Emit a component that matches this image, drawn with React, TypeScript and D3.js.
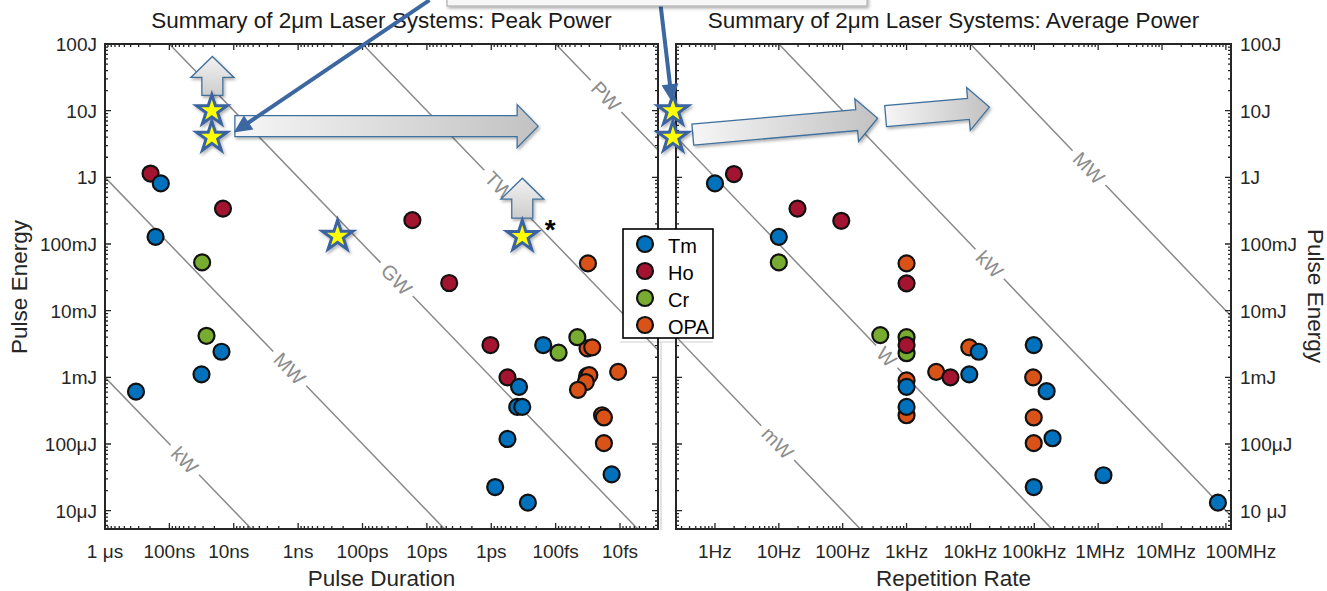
import React, { useEffect, useRef } from "react";
import * as d3 from "d3";

type Pt = [number, number];

// Peak power panel: [pulse duration (s), pulse energy (J)]
const tmPeak: Pt[] = [
  [1.36e-7, 0.81], [1.64e-7, 0.128], [1.55e-8, 2.42e-3], [3.17e-8, 1.11e-3], [3.3e-7, 6.1e-4],
  [1.56e-13, 3.05e-3], [3.7e-13, 7.2e-4], [3.95e-13, 3.6e-4], [3.3e-13, 3.6e-4],
  [5.6e-13, 1.19e-4], [8.7e-13, 2.26e-5], [2.7e-13, 1.32e-5], [1.35e-14, 3.5e-5],
];
const hoPeak: Pt[] = [
  [1.96e-7, 1.14], [1.47e-8, 0.34], [1.68e-11, 0.228], [4.5e-12, 0.026],
  [1.03e-12, 3.05e-3], [5.6e-13, 1.0e-3],
];
const crPeak: Pt[] = [[3.1e-8, 0.053], [2.65e-8, 4.2e-3], [9.0e-14, 2.34e-3], [4.6e-14, 4.0e-3]];
const opaPeak: Pt[] = [
  [3.15e-14, 0.0512], [3.2e-14, 2.72e-3], [2.7e-14, 2.82e-3], [3.25e-14, 1.05e-3], [3.0e-14, 1.08e-3],
  [3.4e-14, 8.5e-4], [4.5e-14, 6.5e-4], [1.07e-14, 1.21e-3], [1.9e-14, 2.7e-4], [1.78e-14, 2.5e-4],
  [1.78e-14, 1.03e-4],
];

// Average power panel: [repetition rate (Hz), pulse energy (J)]
const tmAvg: Pt[] = [
  [1, 0.81], [10, 0.128], [1e3, 7.2e-4], [1e3, 3.6e-4], [9.6e3, 1.11e-3], [1.35e4, 2.42e-3],
  [9.8e4, 3.05e-3], [1.56e5, 6.2e-4], [1.93e5, 1.22e-4], [9.8e4, 2.26e-5], [1.21e6, 3.4e-5], [7.5e7, 1.32e-5],
];
const hoAvg: Pt[] = [[1.98, 1.12], [19.6, 0.34], [95, 0.223], [1e3, 0.0257], [1e3, 3.05e-3], [4.87e3, 1.0e-3]];
const crAvg: Pt[] = [[10, 0.053], [388, 4.3e-3], [1e3, 4.0e-3], [1e3, 2.3e-3]];
const opaAvg: Pt[] = [
  [1e3, 0.0512], [1e3, 9.0e-4], [1e3, 2.7e-4], [2.91e3, 1.21e-3], [9.6e3, 2.82e-3],
  [9.6e4, 1.0e-3], [9.8e4, 2.5e-4], [9.8e4, 1.03e-4],
];

const seriesNames = ["Tm", "Ho", "Cr", "OPA"];
const seriesColors = ["#0072BD", "#A2142F", "#77AC30", "#D95319"];

// highlighted systems (stars)
const starsPeak: Pt[] = [[2.19e-8, 10], [2.19e-8, 4], [2.44e-10, 0.131], [3.3e-13, 0.13]];
const starsAvg: Pt[] = [[0.22, 10], [0.22, 4]];

// block arrows: [tail, tip]
const arrowsPeak: Pt[][] = [
  [[2.15e-8, 17], [2.15e-8, 65]],
  [[9.6e-9, 5.86], [1.87e-13, 5.86]],
  [[3.3e-13, 0.244], [3.3e-13, 0.97]],
];
const arrowsAvg: Pt[][] = [
  [[0.45, 4.37], [352, 7.7]],
  [[470, 8.3], [1.98e4, 11.3]],
];
// callout lines coming from the box above
const connectorsPeak: Pt[][] = [[[9.1e-12, 454], [1.0e-8, 4.7]]];
const connectorsAvg: Pt[][] = [[[0.138, 454], [0.213, 13.4]]];

// constant power lines
const peakLinePowers = [1e3, 1e6, 1e9, 1e12, 1e15];
const peakLineLabels = ["kW", "MW", "GW", "TW", "PW"];
const peakLabelAt = [5.75e-8, 1.35e-9, 2.95e-11, 7.5e-13, 1.65e-14];
const avgLinePowers = [1e-3, 1, 1e3, 1e6];
const avgLineLabels = ["mW", "W", "kW", "MW"];
const avgLabelAt = [9.6, 490, 2e4, 7.2e5];

// ticks
const energyTicks = [100, 10, 1, 0.1, 0.01, 1e-3, 1e-4, 1e-5];
const energyLabelsLeft = ["100J", "10J", "1J", "100mJ", "10mJ", "1mJ", "100μJ", "10μJ"];
const energyLabelsRight = ["100J", "10J", "1J", "100mJ", "10mJ", "1mJ", "100μJ", "10 μJ"];
const durationTicks = [1e-6, 1e-7, 1e-8, 1e-9, 1e-10, 1e-11, 1e-12, 1e-13, 1e-14];
const durationLabels = ["1 μs", "100ns", "10ns", "1ns", "100ps", "10ps", "1ps", "100fs", "10fs"];
const rateTicks = [1, 10, 100, 1e3, 1e4, 1e5, 1e6, 1e7, 1e8];
const rateLabels = ["1Hz", "10Hz", "100Hz", "1kHz", "10kHz", "100kHz", "1MHz", "10MHz", "100MHz"];

const FONT = "'Liberation Sans', Arial, Helvetica, sans-serif";
const TOP = 44, BOTTOM = 529;
const INK = "#262626";
const SH = 10.5, HH = 21.5, HEAD = 21; // block arrow shaft / head half widths, head length

function logTicks(domain: number[]) {
  const l = domain.map(Math.log10);
  const lo = Math.min(...l), hi = Math.max(...l);
  const out: { v: number; major: boolean }[] = [];
  for (let e = Math.floor(lo); e <= Math.ceil(hi); e++)
    for (let m = 1; m <= 9; m++) {
      const lv = Math.log10(m) + e;
      if (lv >= lo - 1e-9 && lv <= hi + 1e-9) out.push({ v: m * 10 ** e, major: m === 1 });
    }
  return out;
}

function arrowPath(a: number[], b: number[]) {
  const dx = b[0] - a[0], dy = b[1] - a[1], L = Math.hypot(dx, dy);
  const ux = dx / L, uy = dy / L, nx = -uy, ny = ux;
  const bx = b[0] - ux * HEAD, by = b[1] - uy * HEAD;
  const p = [
    [a[0] + nx * SH, a[1] + ny * SH], [bx + nx * SH, by + ny * SH], [bx + nx * HH, by + ny * HH],
    [b[0], b[1]],
    [bx - nx * HH, by - ny * HH], [bx - nx * SH, by - ny * SH], [a[0] - nx * SH, a[1] - ny * SH],
  ];
  return "M" + p.map((q) => q.join(",")).join("L") + "Z";
}

const App = () => {
  const svgRef = useRef<SVGSVGElement>(null);

  useEffect(() => {
    const svg = d3.select(svgRef.current);
    svg.selectAll("*").remove();
    svg.attr("font-family", FONT);

    const y = d3.scaleLog().domain([10 ** -5.275, 100]).range([BOTTOM, TOP]);
    const xPeak = d3.scaleLog().domain([1e-6, 10 ** -14.59]).range([105, 658]);
    const xAvg = d3.scaleLog().domain([10 ** -0.61, 10 ** 8.08]).range([676, 1231]);

    const defs = svg.append("defs");
    const gH = defs.append("linearGradient").attr("id", "gradH").attr("x1", 0).attr("y1", 0).attr("x2", 1).attr("y2", 0);
    gH.append("stop").attr("offset", 0).attr("stop-color", "#f6f6f6");
    gH.append("stop").attr("offset", 1).attr("stop-color", "#c2c2c2");
    const gV = defs.append("linearGradient").attr("id", "gradV").attr("x1", 0).attr("y1", 0).attr("x2", 0).attr("y2", 1);
    gV.append("stop").attr("offset", 0).attr("stop-color", "#f2f2f2");
    gV.append("stop").attr("offset", 1).attr("stop-color", "#cdcdcd");
    defs.append("filter").attr("id", "shadow").attr("x", "-30%").attr("y", "-30%").attr("width", "160%").attr("height", "160%")
      .append("feDropShadow").attr("dx", 1.5).attr("dy", 2).attr("stdDeviation", 1.5)
      .attr("flood-color", "#000").attr("flood-opacity", 0.3);

    const panel = (o: {
      id: string; x: d3.ScaleLogarithmic<number, number>; ticks: number[]; tickLabels: string[]; nudge: number[];
      powers: number[]; labels: string[]; labelAt: number[]; energyAt: (p: number, v: number) => number;
      data: Pt[][]; stars: Pt[]; arrows: Pt[][]; title: string; xLabel: string; yLabels: string[]; right: boolean;
    }) => {
      const { x } = o;
      const [x0, x1] = x.range();
      defs.append("clipPath").attr("id", o.id).append("rect")
        .attr("x", x0).attr("y", TOP).attr("width", x1 - x0).attr("height", BOTTOM - TOP);

      // constant power lines with inline labels
      const lg = svg.append("g").attr("clip-path", `url(#${o.id})`);
      const [d0, d1] = x.domain();
      o.powers.forEach((p, i) => {
        const A = [x(d0), y(o.energyAt(p, d0))];
        const B = [x(d1), y(o.energyAt(p, d1))];
        const C = [x(o.labelAt[i]), y(o.energyAt(p, o.labelAt[i]))];
        const L = Math.hypot(B[0] - A[0], B[1] - A[1]);
        const ux = (B[0] - A[0]) / L, uy = (B[1] - A[1]) / L;
        const ang = (Math.atan2(uy, ux) * 180) / Math.PI;
        const t = lg.append("text")
          .attr("transform", `translate(${C[0]},${C[1]}) rotate(${ang})`)
          .attr("text-anchor", "middle").attr("dy", "0.36em")
          .attr("font-size", 20).attr("fill", "#8c8c8c").text(o.labels[i]);
        const w = (t.node() as SVGTextElement).getComputedTextLength();
        const gap = w / 2 + 6;
        const path = d3.path();
        path.moveTo(A[0], A[1]);
        path.lineTo(C[0] - ux * gap, C[1] - uy * gap);
        path.moveTo(C[0] + ux * gap, C[1] + uy * gap);
        path.lineTo(B[0], B[1]);
        lg.append("path").attr("d", path.toString()).attr("stroke", "#8a8a8a").attr("stroke-width", 1.5).attr("fill", "none");
      });

      // box and ticks
      const ag = svg.append("g");
      const tp = d3.path();
      logTicks(x.domain()).forEach((t) => {
        const px = x(t.v), len = t.major ? 6 : 3;
        tp.moveTo(px, BOTTOM); tp.lineTo(px, BOTTOM - len);
        tp.moveTo(px, TOP); tp.lineTo(px, TOP + len);
      });
      logTicks(y.domain()).forEach((t) => {
        const py = y(t.v), len = t.major ? 6 : 3;
        tp.moveTo(x0, py); tp.lineTo(x0 + len, py);
        tp.moveTo(x1, py); tp.lineTo(x1 - len, py);
      });
      ag.append("path").attr("d", tp.toString()).attr("stroke", INK).attr("stroke-width", 1.3).attr("fill", "none");
      ag.append("rect").attr("x", x0).attr("y", TOP).attr("width", x1 - x0).attr("height", BOTTOM - TOP)
        .attr("fill", "none").attr("stroke", INK).attr("stroke-width", 2);

      o.ticks.forEach((v, i) => {
        ag.append("text").attr("x", x(v) + o.nudge[i]).attr("y", 558).attr("text-anchor", "middle")
          .attr("font-size", 19).attr("fill", INK).text(o.tickLabels[i]);
      });
      energyTicks.forEach((v, i) => {
        ag.append("text").attr("x", o.right ? x1 + 9 : x0 - 8).attr("y", y(v) + 7)
          .attr("text-anchor", o.right ? "start" : "end")
          .attr("font-size", 19).attr("fill", INK).text(o.yLabels[i]);
      });
      const cx = (x0 + x1) / 2;
      ag.append("text").attr("x", cx).attr("y", 28).attr("text-anchor", "middle")
        .attr("font-size", 22.5).attr("fill", "#1a1a1a").text(o.title);
      ag.append("text").attr("x", cx).attr("y", 586).attr("text-anchor", "middle")
        .attr("font-size", 22.5).attr("fill", INK).text(o.xLabel);
      ag.append("text")
        .attr("transform", o.right ? "translate(1308,296) rotate(90)" : "translate(27,287) rotate(-90)")
        .attr("text-anchor", "middle").attr("font-size", 22.5).attr("fill", INK).text("Pulse Energy");

      // data points (later series underneath)
      const pg = svg.append("g");
      [3, 2, 1, 0].forEach((si) => {
        pg.selectAll(null).data(o.data[si]).enter().append("circle")
          .attr("cx", (d) => x(d[0])).attr("cy", (d) => y(d[1])).attr("r", 8)
          .attr("fill", seriesColors[si]).attr("stroke", "#111").attr("stroke-width", 2.2);
      });

      // block arrows
      o.arrows.forEach(([a, b]) => {
        const A = [x(a[0]), y(a[1])], B = [x(b[0]), y(b[1])];
        const horiz = Math.abs(B[0] - A[0]) > Math.abs(B[1] - A[1]);
        svg.append("path").attr("d", arrowPath(A, B))
          .attr("fill", horiz ? "url(#gradH)" : "url(#gradV)")
          .attr("stroke", "#41719c").attr("stroke-width", 1.3).attr("filter", "url(#shadow)");
      });

      // stars
      const star = d3.symbol().type(d3.symbolStar).size(290);
      svg.selectAll(null).data(o.stars).enter().append("path")
        .attr("d", star()!).attr("transform", (d) => `translate(${x(d[0])},${y(d[1])})`)
        .attr("fill", "#ffff00").attr("stroke", "#3b64a0").attr("stroke-width", 3)
        .attr("stroke-linejoin", "miter").attr("filter", "url(#shadow)");
      return x;
    };

    // faint frame lines below the legend
    svg.append("line").attr("x1", 661).attr("x2", 661).attr("y1", 342).attr("y2", 530).attr("stroke", "#d0d0d0").attr("stroke-width", 1.2);
    svg.append("line").attr("x1", 620).attr("x2", 713).attr("y1", 342).attr("y2", 342).attr("stroke", "#d0d0d0").attr("stroke-width", 1.2);

    panel({
      id: "clipPeak", x: xPeak, ticks: durationTicks, tickLabels: durationLabels, nudge: [0, 0, -5, 0, 0, 0, 0, 0, 0],
      powers: peakLinePowers, labels: peakLineLabels, labelAt: peakLabelAt, energyAt: (p, t) => p * t,
      data: [tmPeak, hoPeak, crPeak, opaPeak], stars: starsPeak, arrows: arrowsPeak,
      title: "Summary of 2μm Laser Systems: Peak Power", xLabel: "Pulse Duration", yLabels: energyLabelsLeft, right: false,
    });
    panel({
      id: "clipAvg", x: xAvg, ticks: rateTicks, tickLabels: rateLabels, nudge: [0, 0, 0, 0, 0, 0, 2, 4, 15],
      powers: avgLinePowers, labels: avgLineLabels, labelAt: avgLabelAt, energyAt: (p, f) => p / f,
      data: [tmAvg, hoAvg, crAvg, opaAvg], stars: starsAvg, arrows: arrowsAvg,
      title: "Summary of 2μm Laser Systems: Average Power", xLabel: "Repetition Rate", yLabels: energyLabelsRight, right: true,
    });

    // asterisk next to the fs star
    const s = starsPeak[3];
    svg.append("text").attr("x", xPeak(s[0]) + 28).attr("y", y(s[1]) + 3).attr("text-anchor", "middle")
      .attr("font-size", 28).attr("font-weight", "bold").attr("fill", "#000").text("*");

    // callout lines
    const conn = (pts: Pt[][], x: d3.ScaleLogarithmic<number, number>) => {
      pts.forEach(([a, b]) => {
        const A = [x(a[0]), y(a[1])], B = [x(b[0]), y(b[1])];
        const L = Math.hypot(B[0] - A[0], B[1] - A[1]);
        const ux = (B[0] - A[0]) / L, uy = (B[1] - A[1]) / L, nx = -uy, ny = ux;
        svg.append("line").attr("x1", A[0]).attr("y1", A[1])
          .attr("x2", B[0] - ux * 12).attr("y2", B[1] - uy * 12)
          .attr("stroke", "#3c67a0").attr("stroke-width", 4);
        const bx = B[0] - ux * 18, by = B[1] - uy * 18;
        svg.append("path")
          .attr("d", `M${B[0]},${B[1]}L${bx + nx * 8.5},${by + ny * 8.5}L${bx - nx * 8.5},${by - ny * 8.5}Z`)
          .attr("fill", "#3c67a0");
      });
    };
    conn(connectorsPeak, xPeak);
    conn(connectorsAvg, xAvg);

    // cropped call-out box at the top edge
    svg.append("rect").attr("x", 447).attr("y", -25).attr("width", 420).attr("height", 31)
      .attr("fill", "#f7f7f7").attr("stroke", "#b0b0b0").attr("stroke-width", 1.2).attr("filter", "url(#shadow)");

    // legend
    const lg = svg.append("g");
    lg.append("rect").attr("x", 623).attr("y", 229).attr("width", 90).attr("height", 109)
      .attr("fill", "#fff").attr("stroke", "#000").attr("stroke-width", 1.6);
    seriesNames.forEach((n, i) => {
      const ry = 244 + i * 27;
      lg.append("circle").attr("cx", 645).attr("cy", ry).attr("r", 8)
        .attr("fill", seriesColors[i]).attr("stroke", "#111").attr("stroke-width", 2.2);
      lg.append("text").attr("x", 668).attr("y", ry + 9).attr("font-size", 20).attr("fill", "#000").text(n);
    });
  }, []);

  return (
    <svg ref={svgRef} width={1327} height={591}
      style={{ position: "absolute", left: 0, top: 0, background: "#fff", display: "block" }} />
  );
};

export default App;
